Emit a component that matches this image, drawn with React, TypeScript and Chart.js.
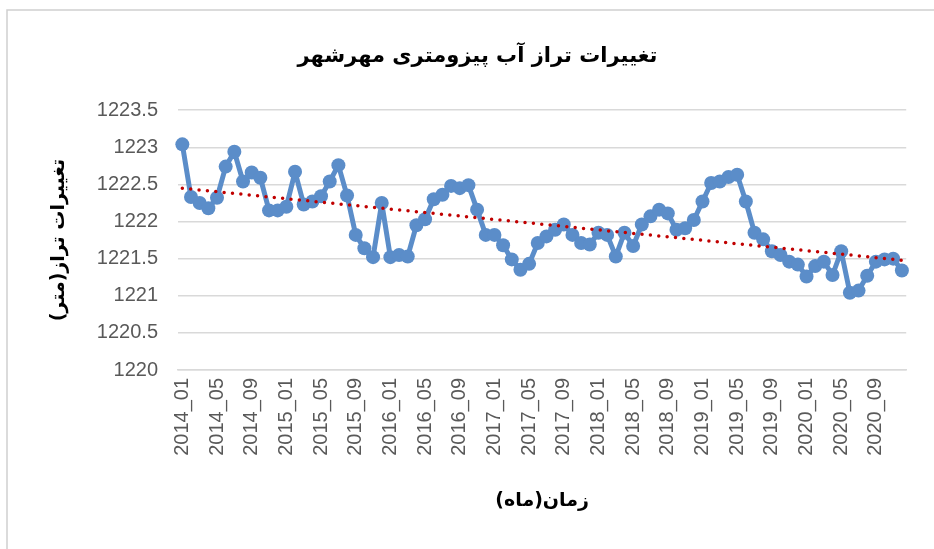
import React, { useEffect, useRef } from 'react';
import { Chart, registerables } from 'chart.js';

Chart.register(...registerables);

const YEARS = [2014, 2015, 2016, 2017, 2018, 2019, 2020];
const MONTHS = ['01', '02', '03', '04', '05', '06', '07', '08', '09', '10', '11', '12'];
const categories: string[] = YEARS.flatMap((y) => MONTHS.map((m) => `${y}_${m}`));

const levels2014 = [1223.04, 1222.33, 1222.25, 1222.18, 1222.32, 1222.74, 1222.94, 1222.54, 1222.66, 1222.59, 1222.15, 1222.15];
const levels2015 = [1222.2, 1222.67, 1222.23, 1222.27, 1222.34, 1222.54, 1222.76, 1222.35, 1221.82, 1221.64, 1221.52, 1222.25];
const levels2016 = [1221.52, 1221.55, 1221.53, 1221.95, 1222.03, 1222.3, 1222.36, 1222.48, 1222.45, 1222.49, 1222.16, 1221.82];
const levels2017 = [1221.82, 1221.68, 1221.49, 1221.35, 1221.43, 1221.71, 1221.8, 1221.89, 1221.96, 1221.82, 1221.71, 1221.69];
const levels2018 = [1221.85, 1221.82, 1221.53, 1221.85, 1221.67, 1221.96, 1222.07, 1222.16, 1222.11, 1221.89, 1221.91, 1222.02];
const levels2019 = [1222.27, 1222.52, 1222.54, 1222.6, 1222.63, 1222.27, 1221.85, 1221.76, 1221.6, 1221.55, 1221.46, 1221.42];
const levels2020 = [1221.26, 1221.4, 1221.46, 1221.28, 1221.6, 1221.04, 1221.07, 1221.27, 1221.46, 1221.49, 1221.5, 1221.34];

const levels: number[] = [
  ...levels2014, ...levels2015, ...levels2016, ...levels2017,
  ...levels2018, ...levels2019, ...levels2020,
];

const Y_MIN = 1220;
const Y_MAX = 1223.5;
const Y_STEP = 0.5;

const TITLE = 'تغییرات تراز آب پیزومتری مهرشهر';
const Y_TITLE = 'تغییرات تراز(متر)';
const X_TITLE = 'زمان(ماه)';

// Linear (least-squares) trendline, as the spreadsheet's trendline does
function linearTrend(vals: number[]): number[] {
  const n = vals.length;
  let sx = 0, sy = 0, sxx = 0, sxy = 0;
  vals.forEach((v, i) => { sx += i; sy += v; sxx += i * i; sxy += i * v; });
  const b = (n * sxy - sx * sy) / (n * sxx - sx * sx);
  const a = (sy - b * sx) / n;
  return vals.map((_, i) => a + b * i);
}

const framePlugin = {
  id: 'frame',
  beforeDraw(chart: any) {
    const ctx = chart.ctx;
    ctx.save();
    ctx.fillStyle = '#ffffff';
    ctx.fillRect(0, 0, chart.width, chart.height);
    ctx.strokeStyle = '#D0D0D0';
    ctx.lineWidth = 1.5;
    ctx.beginPath();
    ctx.moveTo(7, chart.height);
    ctx.lineTo(7, 10);
    ctx.lineTo(chart.width, 10);
    ctx.stroke();
    ctx.restore();
  },
};

export default function App() {
  const ref = useRef<HTMLCanvasElement | null>(null);

  useEffect(() => {
    if (!ref.current) return;
    const trend = linearTrend(levels);
    const chart = new Chart(ref.current, {
      type: 'line',
      data: {
        labels: categories,
        datasets: [
          {
            label: 'trend',
            data: trend,
            borderColor: '#C00000',
            borderWidth: 3.5,
            borderDash: [0, 8.4],
            borderCapStyle: 'round',
            pointRadius: 0,
            fill: false,
            tension: 0,
          },
          {
            label: 'level',
            data: levels,
            borderColor: '#5B8DC9',
            backgroundColor: '#5B8DC9',
            borderWidth: 5,
            borderJoinStyle: 'round',
            borderCapStyle: 'round',
            pointRadius: 7,
            pointBorderWidth: 0,
            pointBackgroundColor: '#5B8DC9',
            fill: false,
            tension: 0,
          },
        ],
      },
      options: {
        animation: false,
        responsive: false,
        devicePixelRatio: 1,
        layout: { padding: { left: 40, right: 19, top: 0, bottom: 37 } },
        plugins: {
          legend: { display: false },
          tooltip: { enabled: false },
          title: {
            display: true,
            text: TITLE,
            color: '#000000',
            font: { family: 'DejaVu Sans', size: 21, weight: 'bold' },
            padding: { top: 44, bottom: 41 },
          },
        },
        scales: {
          x: {
            type: 'category',
            offset: true,
            grid: { display: false, drawTicks: false },
            border: { display: true, color: '#D9D9D9', width: 1.5 },
            ticks: {
              autoSkip: false,
              maxRotation: 90,
              minRotation: 90,
              padding: 8,
              color: '#595959',
              font: { family: 'Liberation Sans', size: 20 },
              callback: (_v: any, idx: number) => (idx % 4 === 0 ? categories[idx] : ''),
            },
            title: {
              display: true,
              text: X_TITLE,
              color: '#000000',
              font: { family: 'DejaVu Sans', size: 19, weight: 'bold' },
              padding: { top: 0, bottom: 0 },
            },
            afterFit: (scale: any) => { scale.height = 142; },
          },
          y: {
            min: Y_MIN,
            max: Y_MAX,
            grid: { color: '#D9D9D9', lineWidth: 1.5, drawTicks: false },
            border: { display: false },
            ticks: {
              stepSize: Y_STEP,
              padding: 20,
              color: '#595959',
              font: { family: 'Liberation Sans', size: 20 },
              callback: (v: any) => String(v),
            },
            title: {
              display: true,
              text: Y_TITLE,
              color: '#000000',
              font: { family: 'DejaVu Sans', size: 19, weight: 'bold' },
              padding: { top: 8, bottom: 0 },
            },
            afterFit: (scale: any) => { scale.width = 138; },
          },
        },
      } as any,
      plugins: [framePlugin],
    });
    return () => chart.destroy();
  }, []);

  return (
    <div style={{ position: 'fixed', left: 0, top: 0, width: 934, height: 549, background: '#fff' }}>
      <canvas ref={ref} width={934} height={549} style={{ width: 934, height: 549, display: 'block' }} />
    </div>
  );
}
